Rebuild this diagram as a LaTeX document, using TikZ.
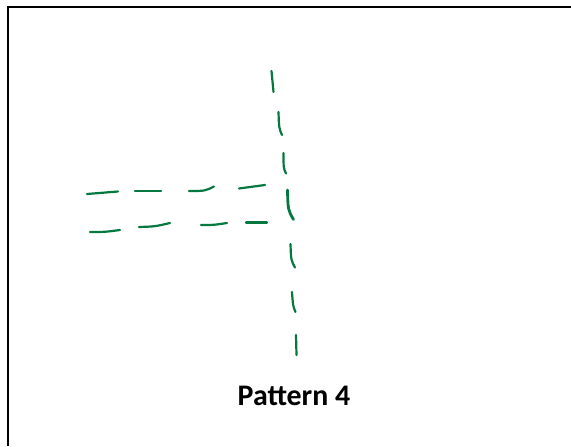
\documentclass[tikz,border=0pt]{standalone}
\usepackage{fontspec}
\setmainfont{Carlito}
\definecolor{penGreen}{RGB}{4,120,62}
\tikzset{
  pen/.style={draw=penGreen, line width=1.25pt, line cap=round},
  frame/.style={draw=black, line width=1.3pt}
}
\begin{document}
\begin{tikzpicture}[x=0.02cm, y=-0.02cm]
\useasboundingbox (0,0) rectangle (571,446);
% frame (top and left edges only)
\draw[frame] (571,7) -- (8,7) -- (8,446);
% upper row of dashes
\draw[pen] (87,194) .. controls (102,193.5) .. (118,191.5);
\draw[pen] (135,191) .. controls (148,190.5) .. (161,191);
\draw[pen] (189,191) .. controls (205,191) .. (214,186.5);
\draw[pen] (239,188.5) .. controls (252,187) .. (265,185);
% lower row of dashes
\draw[pen] (90,232) .. controls (105,232) .. (120,230);
\draw[pen] (139,227) .. controls (155,226.5) .. (170,223);
\draw[pen] (201,225) .. controls (214,225) .. (227,223);
\draw[pen] (246,222.5) .. controls (256,223) .. (267,222.5);
% vertical dashes
\draw[pen] (271.5,71) .. controls (272,82) .. (273.5,92);
\draw[pen] (278.5,112) .. controls (279,128) .. (282,135);
\draw[pen] (283.5,153) .. controls (283.5,168) .. (286,173.5);
\draw[pen, line width=1.6pt] (287.5,190) .. controls (288,210) .. (293.5,219.5);
\draw[pen] (290.5,244) .. controls (291,260) .. (295,267.5);
\draw[pen] (292,292) .. controls (293,306) .. (295.5,312);
\draw[pen] (296,335) .. controls (296.5,345) .. (296.5,355);
% caption
\node[anchor=base, font=\bfseries\fontsize{17}{20}\selectfont] (caption) at (294,405) {Pattern 4};
\end{tikzpicture}
\end{document}
